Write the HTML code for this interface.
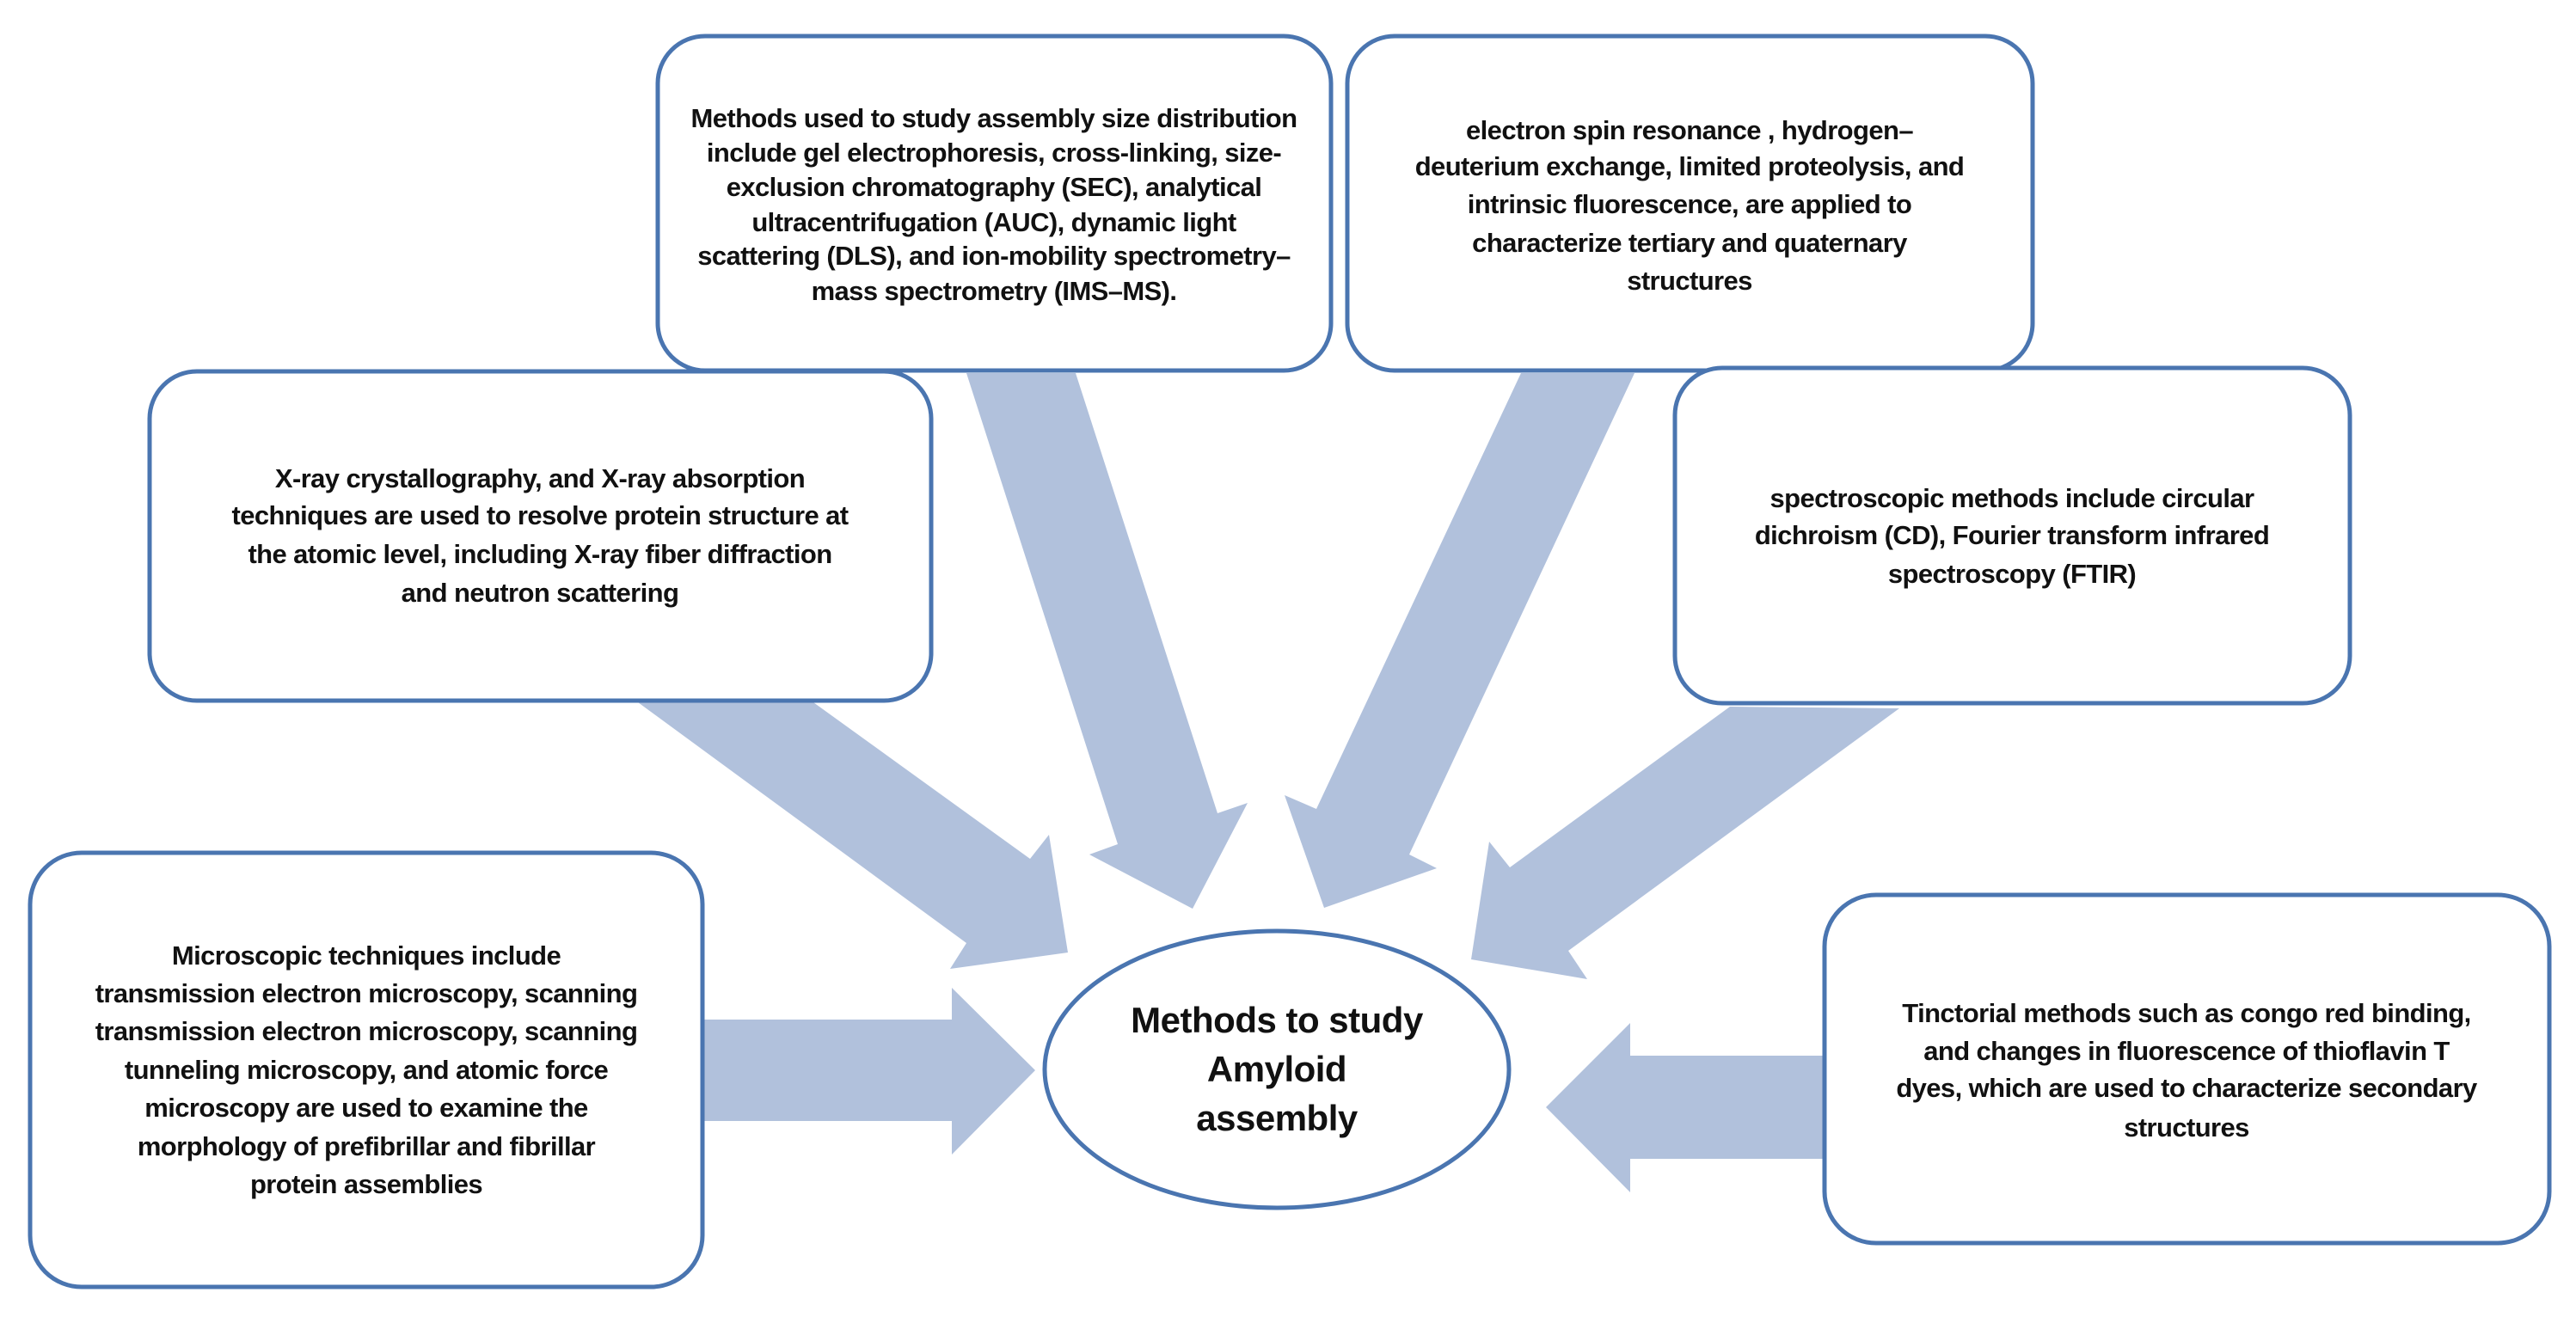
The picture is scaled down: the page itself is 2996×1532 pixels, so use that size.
<!DOCTYPE html>
<html><head><meta charset="utf-8"><style>
html,body{margin:0;padding:0;background:#fff;}
svg{display:block;}
text{font-family:"Liberation Sans",sans-serif;font-weight:bold;fill:#111;text-anchor:middle;}
.t{font-size:31px;letter-spacing:-0.6px;}
.e{font-size:42px;letter-spacing:-0.5px;}
</style></head><body>
<svg width="2996" height="1532" viewBox="0 0 2996 1532" xmlns="http://www.w3.org/2000/svg">
<g fill="#b1c1dc">
<polygon points="1124,434 1251,434 1416,946 1451,934 1387,1057 1267,994 1300,982"/>
<polygon points="742,817 946,817 1198,999 1220,971 1242,1108 1105,1127 1124,1097"/>
<polygon points="1769,434 1901,434 1639,994 1671,1010 1540,1056 1494,925 1531,941"/>
<polygon points="2012,822 2209,824 1824,1106 1846,1139 1711,1116 1732,979 1756,1009"/>
<polygon points="817,1186 1107,1186 1107,1149 1204,1245 1107,1343 1107,1304 817,1304"/>
<polygon points="2122,1228 1896,1228 1896,1190 1798,1288 1896,1387 1896,1348 2122,1348"/>
</g>
<g fill="#fff" stroke="#4a75b0" stroke-width="5">
<rect x="765" y="42" width="783" height="389" rx="55"/>
<rect x="1567" y="42" width="797" height="389" rx="55"/>
<rect x="174" y="432" width="909" height="383" rx="55"/>
<rect x="1948" y="428" width="785" height="390" rx="55"/>
<rect x="35" y="992" width="782" height="505" rx="60"/>
<rect x="2122" y="1041" width="843" height="405" rx="60"/>
<ellipse cx="1485" cy="1244" rx="270" ry="161"/>
</g>
<g class="t">
<text x="1156" y="148">Methods used to study assembly size distribution</text>
<text x="1156" y="188">include  gel electrophoresis, cross-linking,  size-</text>
<text x="1156" y="228">exclusion chromatography (SEC), analytical</text>
<text x="1156" y="269">ultracentrifugation  (AUC), dynamic light</text>
<text x="1156" y="308">scattering (DLS), and ion-mobility spectrometry–</text>
<text x="1156" y="349">mass spectrometry (IMS–MS).</text>

<text x="1965" y="162">electron spin resonance , hydrogen–</text>
<text x="1965" y="204">deuterium exchange, limited proteolysis, and</text>
<text x="1965" y="248">intrinsic fluorescence, are applied to</text>
<text x="1965" y="293">characterize tertiary and quaternary</text>
<text x="1965" y="337">structures</text>

<text x="628" y="567">X-ray crystallography, and X-ray absorption</text>
<text x="628" y="610">techniques  are used to resolve protein structure at</text>
<text x="628" y="655">the atomic level, including X-ray fiber diffraction</text>
<text x="628" y="700">and neutron scattering</text>

<text x="2340" y="590">spectroscopic methods include circular</text>
<text x="2340" y="633">dichroism (CD), Fourier transform infrared</text>
<text x="2340" y="678">spectroscopy (FTIR)</text>

<text x="426" y="1122">Microscopic techniques include</text>
<text x="426" y="1166">transmission electron microscopy, scanning</text>
<text x="426" y="1210">transmission electron microscopy, scanning</text>
<text x="426" y="1255">tunneling microscopy, and atomic force</text>
<text x="426" y="1299">microscopy are used to  examine the</text>
<text x="426" y="1344">morphology of prefibrillar and fibrillar</text>
<text x="426" y="1388">protein assemblies</text>

<text x="2543" y="1189">Tinctorial methods such as  congo red binding,</text>
<text x="2543" y="1233">and changes in fluorescence of thioflavin T</text>
<text x="2543" y="1276">dyes, which are used to characterize secondary</text>
<text x="2543" y="1322">structures</text>
</g>
<g class="e">
<text x="1485" y="1201">Methods to study</text>
<text x="1485" y="1258">Amyloid</text>
<text x="1485" y="1315">assembly</text>
</g>
</svg>
</body></html>
